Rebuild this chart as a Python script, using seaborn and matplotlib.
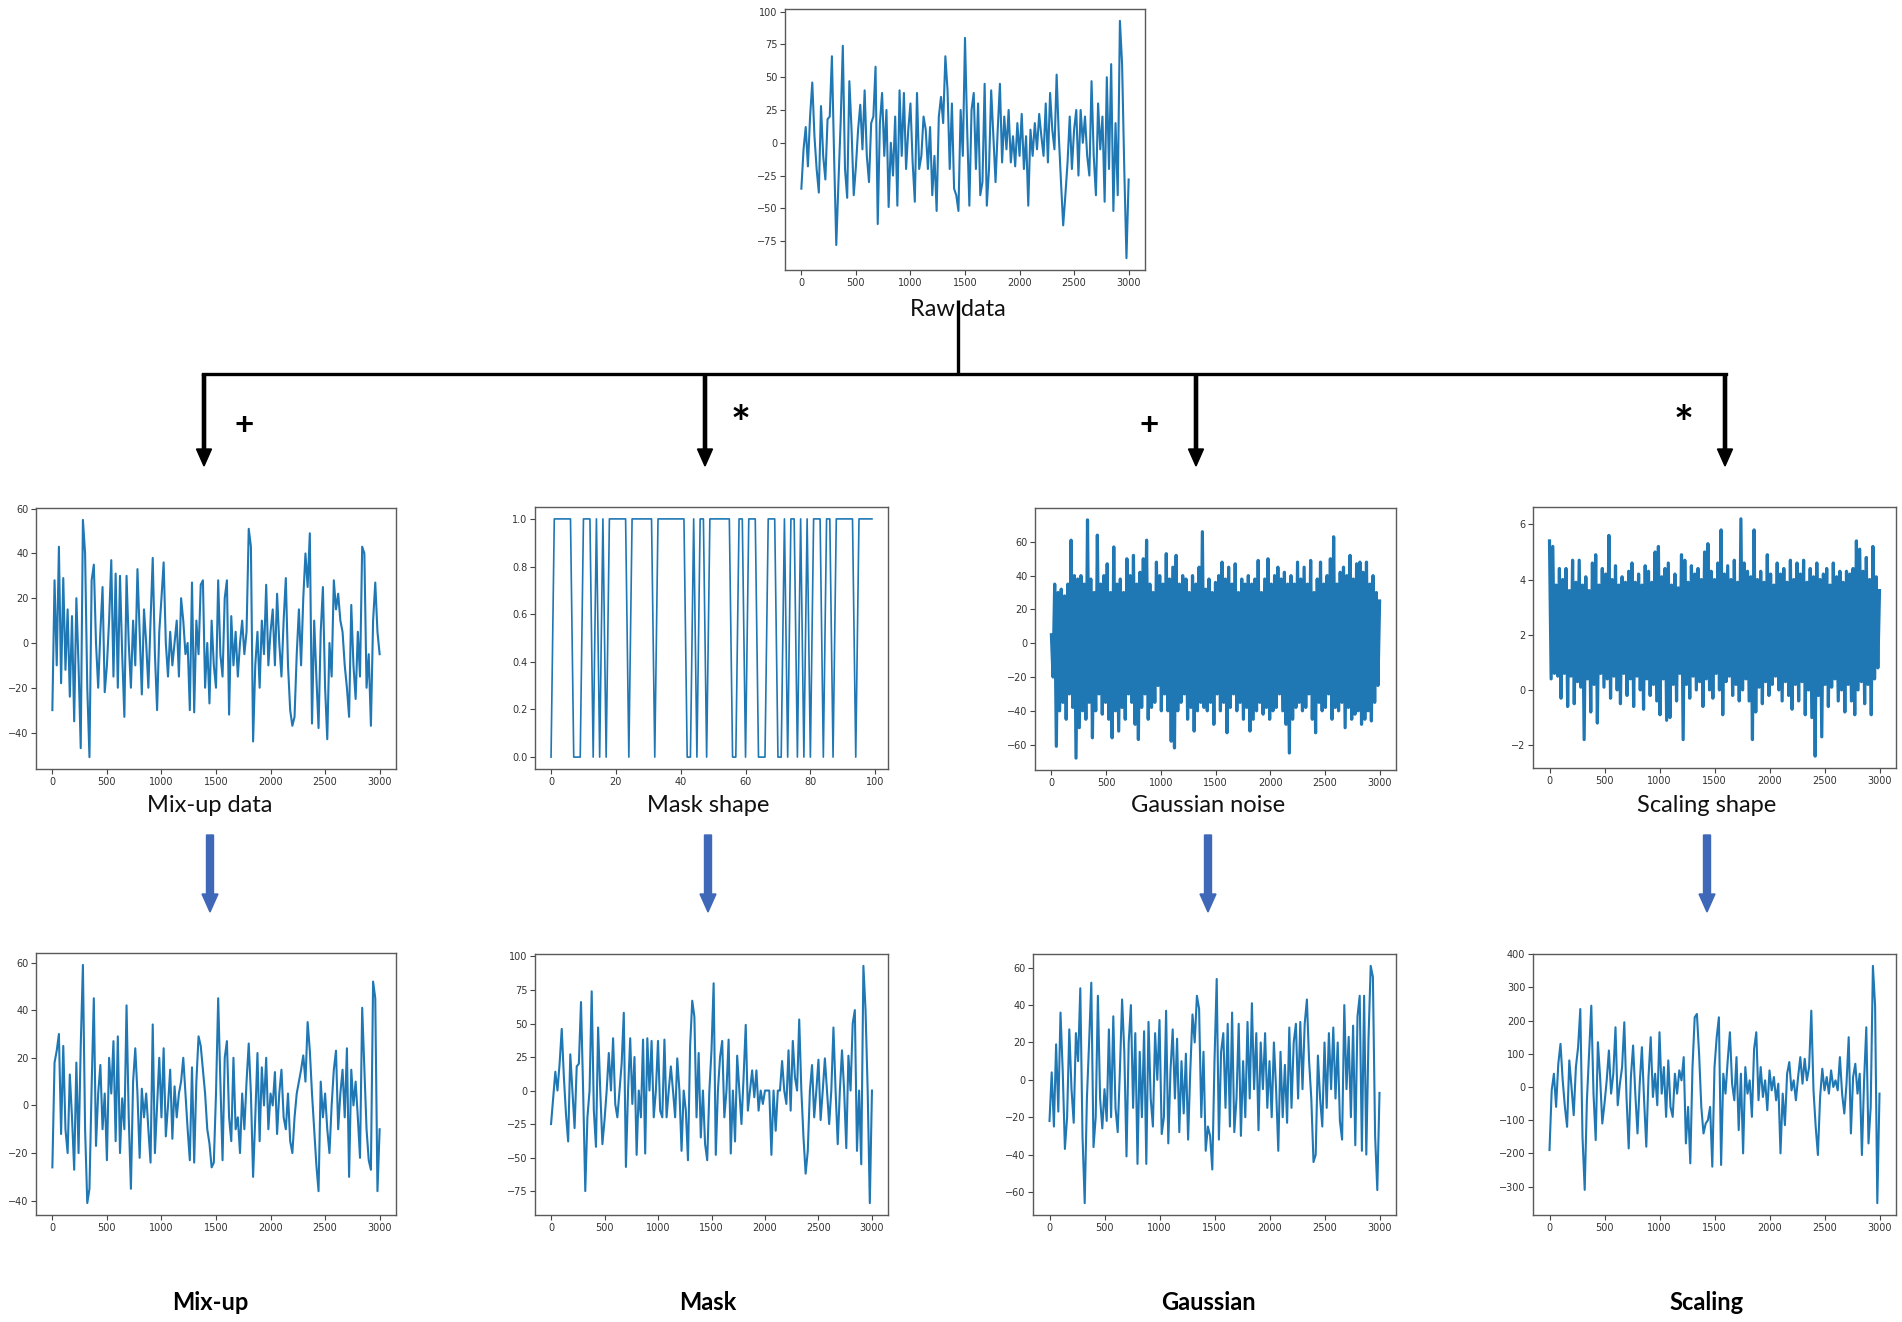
import numpy as np
import matplotlib
matplotlib.use("Agg")
import matplotlib.pyplot as plt
import seaborn as sns

# ---------------- data ----------------
raw_data = [-35, -5, 12, -18, 20, 46, 5, -20, -38, 28, -10, -28, 18, 20, 66, -10, -78, -30, 15, 74,
            -20, -42, 47, 10, -40, -18, 10, 29, -5, 40, -10, -30, 15, 20, 58, -62, 15, 38, -10, 25,
            -49, 0, -25, 20, -48, 40, -10, 38, -20, 10, 30, -15, -45, 38, -20, -10, 20, 10, -20, 12,
            -40, -10, -52, 20, 35, 15, 66, 40, -20, 30, -35, -40, -52, 25, -10, 80, 10, -48, 25, 38,
            -20, 30, -40, -30, 45, -48, -20, 40, 5, -30, 10, 45, -15, 20, -5, 25, -15, 5, -18, 15,
            -10, 22, -20, 5, -48, 10, -10, 15, -5, 22, 5, -10, 30, -15, 38, 10, -5, 52, 5, -30,
            -63, -40, -15, 20, -20, 10, 25, -25, 25, 0, 20, -10, -25, 47, -10, -40, 30, -5, 20, -45,
            50, -20, 60, -52, 15, -40, 93, 60, -20, -88, -28]

mixup_data = [-30, 28, -10, 43, -18, 29, -12, 15, -24, 12, -35, 20, -10, -47, 55, 40, -20, -51, 28, 35,
              0, -20, 5, 25, -22, -10, 10, 37, -15, 31, -20, 30, -5, -33, 30, 0, -20, 10, -10, 33,
              5, -23, 15, 0, -20, 10, 38, -5, -30, 5, 20, 36, 0, -15, 5, -10, 0, 10, -15, 20,
              10, -5, 0, -30, 27, -31, 10, -5, 26, 28, -20, 0, -27, 10, -10, -20, 28, -5, -15, 20,
              28, -32, 12, -10, 5, -15, 0, 10, -5, 5, 51, 43, -44, -10, 5, -20, 10, -5, 26, -10,
              5, 15, -10, 22, 0, -15, 10, 29, -10, -30, -37, -33, -5, 15, -10, 20, 40, 25, 49, -36,
              10, -15, -38, 5, 25, -20, -43, 0, -15, 28, 15, 22, 10, 5, -10, -20, -33, 17, -10, -25,
              5, -15, 43, 40, -20, -5, -37, 10, 27, 5, -5]

mask_shape = [0, 1, 1, 1, 1, 1, 1, 0, 0, 0, 1, 1, 1, 0, 1, 0, 1, 0, 1, 1,
              1, 1, 1, 1, 0, 1, 1, 1, 1, 1, 1, 1, 0, 1, 1, 1, 1, 1, 1, 1,
              1, 1, 0, 0, 1, 0, 1, 1, 0, 1, 1, 1, 1, 1, 1, 1, 0, 0, 1, 1,
              0, 1, 1, 1, 0, 0, 0, 1, 1, 1, 0, 0, 1, 0, 1, 1, 0, 1, 0, 1,
              0, 1, 1, 1, 0, 1, 1, 0, 1, 1, 1, 1, 1, 1, 0, 1, 1, 1, 1, 1]

gaussian_noise = [5, -20, 35, -61, 30, -40, 32, -35, 28, -45, 35, -30, 61, -38, 40, -68, 38, -50, 40, -40,
                  35, -45, 73, -35, 38, -56, 30, -40, 64, -30, 35, -42, 40, -35, 47, -45, 30, -56, 57, -40,
                  35, -52, 38, -38, 30, -45, 50, -30, 40, -35, 52, -48, 35, -57, 42, -38, 50, -30, 61, -45,
                  35, -38, 30, -35, 48, -25, 40, -40, 35, -30, 53, -40, 38, -58, 45, -62, 52, -40, 35, -35,
                  40, -30, 38, -45, 30, -38, 40, -52, 35, -40, 45, -35, 66, -38, 32, -40, 38, -35, 30, -48,
                  36, -30, 40, -40, 48, -35, 38, -53, 45, -38, 35, -30, 47, -40, 30, -35, 38, -45, 35, -38,
                  40, -52, 35, -45, 38, -40, 49, -35, 30, -42, 38, -38, 50, -45, 35, -40, 40, -38, 45, -30,
                  38, -40, 42, -48, 35, -65, 40, -45, 35, -38, 48, -35, 38, -40, 45, -38, 35, -30, 49, -45,
                  30, -53, 38, -35, 48, -40, 35, -38, 40, -30, 50, -45, 63, -38, 35, -40, 42, -35, 45, -50,
                  40, -38, 52, -45, 38, -42, 47, -40, 48, -48, 42, -45, 48, -40, 35, -46, 40, -35, 30, -25, 25]

scaling_shape = [5.4, 0.4, 5.2, 0.6, 3.8, 0.5, 4.4, -0.3, 4.0, 0.6, 4.4, -0.6, 3.6, 0.5, 4.7, -0.5, 3.9, 0.3, 4.7, 0.1,
                 3.8, -1.8, 4.1, 0.4, 3.6, -0.8, 4.6, 0.2, 4.9, -1.2, 3.8, 0.6, 4.4, 0.1, 4.2, 0.4, 5.6, -0.3, 4.0, 0.5,
                 4.5, 0.0, 3.8, -0.5, 4.1, 0.6, 3.9, -0.2, 4.3, 0.4, 4.6, -0.6, 3.9, 0.5, 4.2, 0.0, 3.8, -0.7, 4.5, 0.4,
                 4.3, -0.2, 3.9, 0.2, 5.0, -0.4, 5.2, -0.9, 4.1, 0.4, 4.4, -1.1, 4.6, -1.0, 3.8, 0.2, 4.2, -0.4, 3.7, 0.6,
                 4.9, -1.8, 4.7, 0.2, 3.9, -0.3, 4.5, 0.5, 4.2, 0.0, 4.4, 0.3, 4.0, -0.6, 5.0, 0.4, 5.3, 0.0, 4.3, -0.3,
                 4.0, 0.6, 4.6, 0.0, 5.8, -0.9, 4.2, 0.3, 4.5, 0.5, 4.0, -0.2, 4.7, 0.2, 3.9, -0.4, 6.2, 0.0, 4.6, 0.4,
                 4.3, -0.4, 4.1, -1.8, 5.8, -0.8, 4.0, 0.1, 4.3, -0.5, 3.9, 0.3, 4.9, -0.2, 4.2, 0.2, 3.8, 0.5, 4.6, 0.0,
                 4.2, -0.4, 4.4, 0.3, 3.9, -0.2, 4.7, -0.7, 4.0, 0.2, 4.6, -0.4, 4.2, 0.3, 4.7, -0.9, 3.9, 0.0, 4.4, -1.0,
                 4.1, -2.4, 4.6, -0.2, 4.0, -1.7, 4.2, 0.2, 4.4, -0.6, 3.8, 0.1, 4.6, 0.4, 4.1, -0.4, 4.3, 0.0, 3.9, -0.8,
                 4.3, 0.2, 4.2, -0.4, 4.4, -0.9, 5.4, 0.0, 5.1, 0.3, 4.3, -0.5, 4.8, 0.2, 4.0, -0.9, 5.2, 0.4, 4.1, 0.8, 3.6]

mixup_result = [-26, 18, 23, 30, -12, 25, -10, -20, 13, -5, -27, 18, -20, 25, 59, -10, -41, -35, 8, 45,
                -17, 5, 17, -10, 5, -23, 20, 5, 27, -15, 29, -20, 3, -10, 42, -5, -35, 10, 24, 5,
                -22, 7, -5, 5, -10, -24, 34, -20, 0, 20, -5, 24, -13, 0, 15, -14, 8, -5, 5, 10,
                20, 5, -10, -23, 16, -24, 10, 29, 25, 15, 5, -10, -16, -26, -24, 5, 45, 10, -23, 20,
                27, -5, -15, 20, -10, -5, -20, 5, -10, 10, 26, 5, -30, -5, 22, -15, 16, 0, 20, -10,
                5, 0, 14, -12, 5, 15, -5, -10, 5, -15, -20, -5, 5, 10, 15, 21, 10, 35, 23, 5,
                -10, -25, -36, 10, -5, 5, -10, -20, 0, 15, 23, -10, 5, 15, -5, 24, -30, 15, 0, 10,
                -5, -22, 41, 15, -10, -23, -27, 52, 45, -36, -10]

mask_result = [-25, -5, 14, 0, 20, 46, 10, -18, -38, 27, 0, -28, 18, 20, 66, 0, -75, -20, 0, 74,
               -15, -42, 47, 0, -40, -22, 0, 28, 0, 39, -10, -20, 0, 20, 58, -57, 0, 39, -10, 25,
               -48, 0, -20, 38, -47, 39, 0, 37, -20, 0, 37, -15, -20, 38, -20, 0, 18, 0, -20, 24,
               0, -45, 0, -15, -52, 33, 67, 55, -20, 28, -35, 0, -40, -52, 0, 30, 80, -48, 0, 25,
               37, -20, 0, 38, -47, 0, -38, 26, 0, -25, 10, 49, -15, 0, 15, -5, 15, -15, 0, -10,
               0, 0, 0, -48, 0, -30, 0, 0, 22, 0, -10, 30, -15, 37, 10, 0, 53, 0, -35, -62,
               -45, 0, 19, -20, 0, 23, -22, 0, 24, 0, -25, 0, 47, 0, -40, 0, 30, 0, -43, 26,
               0, 50, 60, -45, 0, -55, 93, 60, 0, -84, 0]

gaussian_result = [-22, 4, -25, 19, -17, 36, 5, -37, -20, 27, -5, -23, 25, 10, 49, -30, -66, -10, 20, 52,
                   -36, -20, 45, -10, -26, -5, -22, 27, -20, 34, -15, -28, 5, 43, 15, -41, 20, 40, -15, 25,
                   -45, 15, -20, 26, -45, 31, -10, -25, 25, 0, 32, -29, -20, 37, -34, 5, 27, -10, 22, -28,
                   10, -18, 14, -32, 5, 35, 20, 45, 38, -20, 15, -38, -25, -30, -48, 10, 54, -32, 15, 25,
                   -15, 30, -25, 36, -28, -10, 30, -30, 10, -20, 31, -10, 41, -5, 25, -27, 20, -5, 25, -15,
                   10, -20, 20, -5, -38, 15, -20, 8, -23, 28, -15, 20, 30, -10, 31, -5, 30, 43, 10, -10,
                   -44, -40, 13, -10, -25, 20, -15, 25, -5, 28, -10, 20, -22, -32, 40, -5, 23, -20, 29, -35,
                   34, 45, -38, 45, -40, 22, 61, 55, -30, -59, -7]

scaling_result = [-190, -10, 40, -60, 70, 130, 20, -60, -120, 80, 0, -85, 60, 120, 235, -150, -310, -40, 100, 245,
                  -20, -160, 135, 30, -110, -50, 20, 110, -20, 40, 180, -55, 10, 60, 195, -30, -185, 30, 125, -20,
                  -140, 10, 120, -40, -180, 30, 150, -30, 40, -55, 165, -20, 60, -90, 80, -60, -90, 40, -20, 50,
                  20, 90, -170, -60, -230, 60, 210, 220, 100, -60, -140, -110, -100, -60, -240, 60, 150, 210, -235, 40,
                  -20, 80, 165, 10, -40, 90, -130, 40, -200, 60, -20, 20, -90, 115, 165, -40, 60, -30, 20, -70,
                  50, -10, 30, -40, 10, -200, -20, -115, 40, 75, -10, 20, -40, 30, 90, 10, 85, 20, 60, 230,
                  -10, -120, -205, -30, 55, -10, 30, -20, 50, 0, 20, -10, 90, -20, -80, 10, 150, -140, 30, 70,
                  -20, 40, -205, 20, 180, -170, -60, 365, 245, -350, -20]

mid_labels = ["Mix-up data", "Mask shape", "Gaussian noise", "Scaling shape"]
bottom_labels = ["Mix-up", "Mask", "Gaussian", "Scaling"]
operators = ["+", "*", "+", "*"]

# ---------------- figure ----------------
W, H = 1902, 1322
fig = plt.figure(figsize=(W / 100, H / 100), dpi=100)
fig.patch.set_facecolor("white")
LINE = "#1f77b4"


def add_ax(left, top, right, bottom):
    return fig.add_axes([left / W, 1 - bottom / H, (right - left) / W, (bottom - top) / H])


def style(ax):
    for s in ax.spines.values():
        s.set_color("#5a5a5a")
        s.set_linewidth(1.0)
    ax.tick_params(labelsize=7, length=3.5, width=0.8, color="#444444", labelcolor="#333333", pad=2)
    ax.set_xlabel("")
    ax.set_ylabel("")
    ax.grid(False)


def series(ax, values, xmax=3000, lw=1.5):
    v = np.asarray(values, dtype=float)
    x = np.linspace(0, xmax, len(v))
    sns.lineplot(x=x, y=v, ax=ax, color=LINE, linewidth=lw, estimator=None, sort=False)
    style(ax)
    return ax


# raw
ax_raw = add_ax(785, 9, 1145, 270)
series(ax_raw, raw_data)
ax_raw.set_yticks([-75, -50, -25, 0, 25, 50, 75, 100])
ax_raw.set_xticks([0, 500, 1000, 1500, 2000, 2500, 3000])

# middle row
mid_boxes = [(36, 508, 396, 769), (535, 507, 888, 769), (1035, 508, 1396, 770), (1533, 507, 1896, 768)]
ax = add_ax(*mid_boxes[0]); series(ax, mixup_data)
ax.set_xticks(range(0, 3001, 500))
ax = add_ax(*mid_boxes[1])
sns.lineplot(x=np.arange(len(mask_shape)), y=mask_shape, ax=ax, color=LINE, linewidth=1.2, estimator=None)
style(ax)
ax.set_yticks([0.0, 0.2, 0.4, 0.6, 0.8, 1.0])
ax.set_xticks([0, 20, 40, 60, 80, 100])
ax = add_ax(*mid_boxes[2]); series(ax, gaussian_noise, lw=2.3)
ax.set_xticks(range(0, 3001, 500))
ax.set_yticks([-60, -40, -20, 0, 20, 40, 60])
ax = add_ax(*mid_boxes[3]); series(ax, scaling_shape, lw=2.3)
ax.set_xticks(range(0, 3001, 500))
ax.set_yticks([-2, 0, 2, 4, 6])

# bottom row
bot_boxes = [(36, 953, 396, 1215), (535, 954, 888, 1215), (1033, 954, 1396, 1215), (1533, 954, 1896, 1215)]
for box, vals in zip(bot_boxes, [mixup_result, mask_result, gaussian_result, scaling_result]):
    ax = add_ax(*box)
    series(ax, vals)
    ax.set_xticks(range(0, 3001, 500))

# ---------------- overlay: connectors, arrows, labels ----------------
ov = fig.add_axes([0, 0, 1, 1], zorder=10)
ov.set_xlim(0, W)
ov.set_ylim(H, 0)
ov.axis("off")
ov.patch.set_alpha(0)

FONT = ["Lato", "DejaVu Sans"]
branch_x = [204, 705, 1196, 1725]
centers = [210, 708, 1208, 1707]

ov.text(958, 309, "Raw data", ha="center", va="center", fontsize=17, family=FONT, color="#111111")
ov.plot([958, 958], [300, 374], color="black", lw=2.4, solid_capstyle="butt")
ov.plot([branch_x[0] - 1, branch_x[-1] + 1], [374, 374], color="black", lw=2.4, solid_capstyle="projecting")
for bx in branch_x:
    ov.arrow(bx, 374, 0, 92, width=3.2, head_width=15, head_length=17,
             length_includes_head=True, color="black")

op_pos = [(244, 425, 24), (741, 426, 34), (1149, 425, 24), (1684, 426, 34)]
for (px, py, fs), op in zip(op_pos, operators):
    ov.text(px, py, op, ha="center", va="center", fontsize=fs, fontweight="bold", family=FONT, color="black")

for cx, lab in zip(centers, mid_labels):
    ov.text(cx, 805, lab, ha="center", va="center", fontsize=17, family=FONT, color="#111111")
    ov.arrow(cx, 835, 0, 77, width=7, head_width=16, head_length=18,
             length_includes_head=True, color="#4068b8")

for cx, lab in zip(centers, bottom_labels):
    ov.text(cx, 1302, lab, ha="center", va="center", fontsize=17, fontweight="bold", family=FONT, color="black")

fig.savefig("out.png", dpi=100, facecolor="white")
